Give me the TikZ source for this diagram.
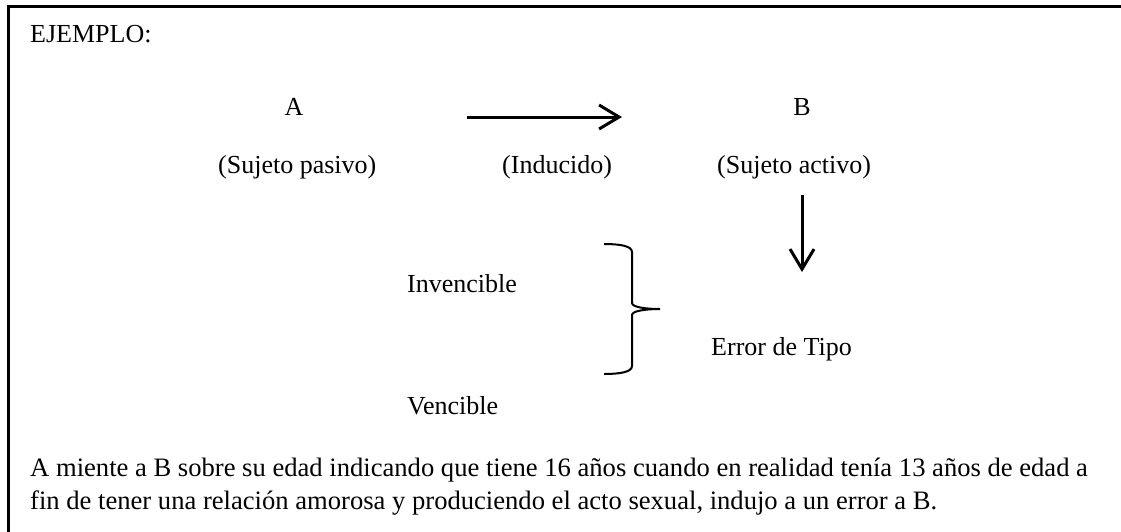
\documentclass[tikz,border=0pt]{standalone}
\usepackage{fontspec}
\setmainfont{Liberation Serif}
\usetikzlibrary{arrows.meta}
\begin{document}
\begin{tikzpicture}[x=1pt,y=-1pt,
  txt/.style={font=\fontsize{26}{33}\selectfont, inner sep=0pt, anchor=base west},
  para/.style={txt, font=\fontsize{26.6}{33}\selectfont},
  arr/.style={line width=3pt, -{Straight Barb[length=20pt,width=24pt]}},
  brace/.style={line width=2pt}]
\useasboundingbox (0,0) rectangle (1121,531);
\draw[line width=3pt] (8,540) -- (8,6.5) -- (1130,6.5);
\node[txt] (ej) at (30,42) {EJEMPLO:};
\node[txt,anchor=base] (a) at (294,115) {A};
\node[txt,anchor=base] (b) at (802,115) {B};
\node[txt] (sp) at (218,173) {(Sujeto pasivo)};
\node[txt] (ind) at (502,173) {(Inducido)};
\node[txt] (sa) at (717,173) {(Sujeto activo)};
\node[txt] (inv) at (407,292) {Invencible};
\node[txt] (err) at (711,355) {Error de Tipo};
\node[txt] (ven) at (407,414) {Vencible};
\node[para] (p1) at (30,476) {A miente a B sobre su edad indicando que tiene 16 años cuando en realidad tenía 13 años de edad a};
\node[para] (p2) at (30,509) {fin de tener una relación amorosa y produciendo el acto sexual, indujo a un error a B.};
\coordinate (h1) at (467,117);
\coordinate (h2) at (622,117);
\coordinate (v1) at (802,195);
\coordinate (v2) at (802,272);
\draw[arr] (h1) -- (h2);
\draw[arr] (v1) -- (v2);
\draw[brace] (604,244) .. controls (620,244) and (632,246) .. (632,252) -- (632,303)
  .. controls (632,307) and (645,309) .. (660,309)
  .. controls (645,309) and (632,311) .. (632,315) -- (632,366)
  .. controls (632,372) and (620,374) .. (604,374);
\end{tikzpicture}
\end{document}
